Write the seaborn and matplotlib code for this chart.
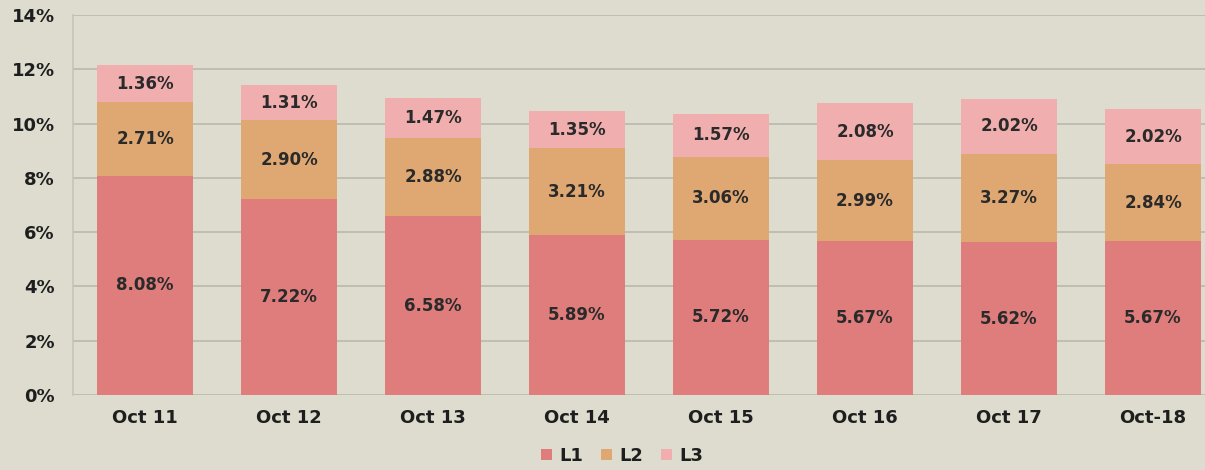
import matplotlib
matplotlib.use("Agg")
import matplotlib.pyplot as plt
import seaborn as sns
import pandas as pd
import numpy as np
from matplotlib.ticker import PercentFormatter
from matplotlib.patches import Patch

categories = ["Oct 11", "Oct 12", "Oct 13", "Oct 14", "Oct 15", "Oct 16", "Oct 17", "Oct-18"]
l1 = [8.08, 7.22, 6.58, 5.89, 5.72, 5.67, 5.62, 5.67]
l2 = [2.71, 2.90, 2.88, 3.21, 3.06, 2.99, 3.27, 2.84]
l3 = [1.36, 1.31, 1.47, 1.35, 1.57, 2.08, 2.02, 2.02]
series_names = ["L1", "L2", "L3"]
colors = ["#de7d7c", "#dfa873", "#f1aeae"]
bg = "#dddcce"

sns.set_theme(style="white")
plt.rcParams['font.family'] = ['DejaVu Sans']

fig = plt.figure(figsize=(12.05, 4.70), dpi=100, facecolor=bg)
ax = fig.add_axes([73/1205, 75/470, 1 - 73/1205, 380/470])
ax.set_facecolor(bg)

df = pd.DataFrame({"cat": categories, "L1": l1, "L2": l2, "L3": l3})
df["c1"] = df["L1"]
df["c2"] = df["L1"] + df["L2"]
df["c3"] = df["L1"] + df["L2"] + df["L3"]

# stacked: draw cumulative totals from top to bottom
for cum, col in zip(["c3", "c2", "c1"], colors[::-1]):
    sns.barplot(data=df, x="cat", y=cum, color=col, width=0.66, saturation=1,
                linewidth=0, edgecolor="none", ax=ax, zorder=3)

xpos = np.arange(len(categories))
bottoms = np.zeros(len(categories))
for name in series_names:
    vals = np.array(df[name])
    for x, b, v in zip(xpos, bottoms, vals):
        ax.text(x, b + v / 2, f"{v:.2f}%", ha="center", va="center",
                fontsize=12, fontweight="bold", color="#2a2a2a", zorder=4)
    bottoms = bottoms + vals

ax.set_xlim(-0.5, (1205 - 145) / 144)
ax.set_ylim(0, 14)
ax.set_yticks(np.arange(0, 15, 2))
ax.yaxis.set_major_formatter(PercentFormatter(decimals=0))
ax.grid(axis="y", color="#b9b9ad", linewidth=1.2, zorder=0)
ax.set_axisbelow(True)
for s in ["top", "right", "bottom"]:
    ax.spines[s].set_visible(False)
ax.spines["left"].set_color("#c4c4b8")
ax.spines["left"].set_linewidth(1.2)
ax.tick_params(axis="both", length=0, labelsize=13, colors="#1e1e1e")
for lab in ax.get_xticklabels() + ax.get_yticklabels():
    lab.set_fontweight("bold")
ax.tick_params(axis="x", pad=10)
ax.tick_params(axis="y", pad=13)
ax.set_xlabel("")
ax.set_ylabel("")

handles = [Patch(facecolor=c, label=n, linewidth=0) for n, c in zip(series_names, colors)]
leg = fig.legend(handles=handles, loc="center", bbox_to_anchor=(622/1205, 1 - 456/470),
                 ncol=3, frameon=False, fontsize=13, handlelength=0.6, handleheight=0.6,
                 handletextpad=0.4, columnspacing=1.0)
for t in leg.get_texts():
    t.set_fontweight("bold")
    t.set_color("#1e1e1e")

fig.savefig("out.png", dpi=100, facecolor=bg)
